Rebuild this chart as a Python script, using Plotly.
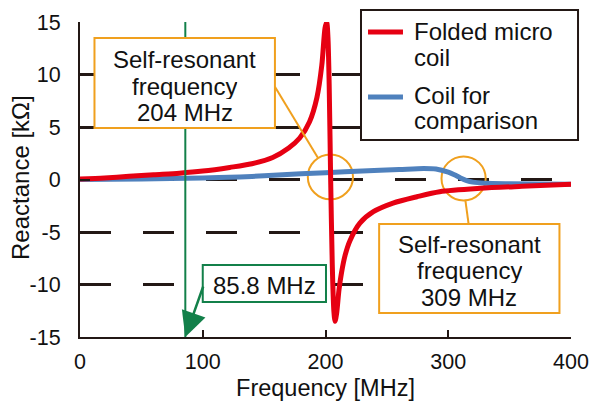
import plotly.graph_objects as go

# ---- data ----
freq_folded = [0, 20, 40, 60, 81, 100, 122, 140, 157, 170, 179, 187, 193, 197,
               199.6, 201, 202, 203, 204.2, 205.5, 206.8, 207.8, 209, 211, 213,
               216, 220, 228, 239, 255, 274.5, 293, 326, 360, 400]
react_folded = [0.05, 0.15, 0.3, 0.45, 0.6, 0.8, 1.15, 1.5, 2.1, 3.0, 3.95, 5.5,
                7.8, 10.9, 14.4, 15.0, 13.5, 9.0, 0.0, -8.0, -12.5, -13.5, -12.8,
                -10.5, -8.9, -7.2, -5.8, -4.15, -3.07, -2.25, -1.64, -1.16, -0.84,
                -0.65, -0.46]

freq_compare = [0, 50, 100, 130, 150, 180, 200, 230, 260, 280, 290, 300, 305,
                310, 315, 320, 330, 350, 400]
react_compare = [0.0, 0.05, 0.15, 0.25, 0.35, 0.55, 0.65, 0.8, 0.95, 1.05, 1.0,
                 0.7, 0.45, 0.15, -0.1, -0.25, -0.35, -0.4, -0.45]

series_names = ["Folded micro coil", "Coil for comparison"]
legend_lines = [["Folded micro", "coil"], ["Coil for", "comparison"]]

x_ticks = [0, 100, 200, 300, 400]
y_ticks = [-15, -10, -5, 0, 5, 10, 15]

srf_folded = 204
srf_compare = 309
marker_freq = 85.8

RED = "#E60012"
BLUE = "#4F81BD"
ORANGE = "#F0A01E"
GREEN = "#13804A"
INK = "#231815"
TXT = "#111111"
FONT = "Liberation Sans, Arial, sans-serif"

fig = go.Figure()
fig.add_trace(go.Scatter(x=freq_compare, y=react_compare, mode="lines",
                         name=series_names[1], showlegend=False,
                         line=dict(color=BLUE, width=5, shape="spline",
                                   smoothing=0.8)))
fig.add_trace(go.Scatter(x=freq_folded, y=react_folded, mode="lines",
                         name=series_names[0], showlegend=False,
                         line=dict(color=RED, width=5, shape="spline",
                                   smoothing=0.8)))

# green marker line
fig.add_shape(type="line", x0=marker_freq, x1=marker_freq, y0=-15, y1=15.2,
              xref="x", yref="y", line=dict(color=GREEN, width=2))

# orange circles
fig.add_shape(type="circle", x0=srf_folded - 18.4, x1=srf_folded + 18.4,
              y0=0.25 - 2.14, y1=0.25 + 2.14, xref="x", yref="y",
              line=dict(color=ORANGE, width=2), layer="between")
fig.add_shape(type="circle", x0=312.5 - 18.0, x1=312.5 + 18.0,
              y0=0.1 - 2.1, y1=0.1 + 2.1, xref="x", yref="y",
              line=dict(color=ORANGE, width=2), layer="between")
# orange connectors
fig.add_shape(type="line", x0=158.8, y0=8.84, x1=193.9, y1=2.05,
              xref="x", yref="y", line=dict(color=ORANGE, width=2))
fig.add_shape(type="line", x0=316.6, y0=-4.24, x1=313.9, y1=-1.95,
              xref="x", yref="y", line=dict(color=ORANGE, width=2))

# boxes
fig.add_shape(type="rect", x0=11.8, x1=158.8, y0=4.9, y1=13.48,
              xref="x", yref="y", fillcolor="white",
              line=dict(color=ORANGE, width=2))
fig.add_shape(type="rect", x0=243.7, x1=390.6, y0=-12.71, y1=-4.24,
              xref="x", yref="y", fillcolor="white",
              line=dict(color=ORANGE, width=2))
fig.add_shape(type="rect", x0=100.0, x1=200.4, y0=-11.67, y1=-8.14,
              xref="x", yref="y", fillcolor="white",
              line=dict(color=GREEN, width=2))

def text_line(x, y, s, xref="x", yref="y", xanchor="center", size=24):
    fig.add_annotation(x=x, y=y, xref=xref, yref=yref, showarrow=False, text=s,
                       font=dict(family=FONT, size=size, color=TXT),
                       xanchor=xanchor, yanchor="middle",
                       height=26, borderpad=0)

for yv, s in zip([11.45, 8.90, 6.45],
                 ["Self-resonant", "frequency", "%d MHz" % srf_folded]):
    text_line(85.3, yv, s)
for yv, s in zip([-6.14, -8.62, -11.20],
                 ["Self-resonant", "frequency", "%d MHz" % srf_compare]):
    text_line(317.1, yv, s)
text_line(150.2, -10.05, "%.1f MHz" % marker_freq)

fig.add_annotation(x=marker_freq, y=-15, xref="x", yref="y", text="",
                   showarrow=True, axref="x", ayref="y", ax=100.8, ay=-10.05,
                   arrowhead=2, arrowsize=2, arrowwidth=2.5,
                   arrowcolor=GREEN, standoff=0, startstandoff=0)

# legend (drawn as a box with sample lines and text)
fig.add_shape(type="rect", xref="paper", yref="paper",
              x0=0.5723, x1=1.0143, y0=0.6254, y1=1.0381,
              fillcolor="white", line=dict(color=INK, width=2))
for ys, col in zip([0.9683, 0.7619], [RED, BLUE]):
    fig.add_shape(type="line", xref="paper", yref="paper",
                  x0=0.5866, x1=0.6578, y0=ys, y1=ys,
                  line=dict(color=col, width=5))
for ys, s in zip([0.9705, 0.8889, 0.7673, 0.6889],
                 legend_lines[0] + legend_lines[1]):
    text_line(0.6782, ys, s, xref="paper", yref="paper", xanchor="left")

# y-axis title
fig.add_annotation(x=-0.1202, y=0.508, xref="paper", yref="paper",
                   text="Reactance [kΩ]", textangle=-90, showarrow=False,
                   font=dict(family=FONT, size=24, color=TXT),
                   xanchor="center", yanchor="middle")

fig.update_layout(
    width=590, height=401,
    margin=dict(l=80, r=19, t=22, b=64, autoexpand=False),
    paper_bgcolor="white", plot_bgcolor="white",
    font=dict(family=FONT, size=21.5, color=TXT),
    showlegend=False,
)
fig.update_xaxes(range=[0, 400], tickvals=x_ticks,
                 ticktext=[str(v) for v in x_ticks],
                 ticks="inside", ticklen=7, tickwidth=2, tickcolor=INK,
                 showline=True, linecolor=INK, linewidth=2,
                 showgrid=False, zeroline=False, automargin=False,
                 ticklabelstandoff=4,
                 title=dict(text="Frequency [MHz]", standoff=20,
                            font=dict(size=23.5)))
fig.update_yaxes(range=[-15, 15], tickvals=y_ticks,
                 ticktext=[str(v) for v in y_ticks],
                 ticks="inside", ticklen=10, tickwidth=2, tickcolor=INK,
                 showline=True, linecolor=INK, linewidth=2,
                 showgrid=True, gridcolor=INK, gridwidth=2.5,
                 griddash="31px,32px", zeroline=False, automargin=False,
                 ticklabelstandoff=13)

fig.write_html("out.html", config={"displayModeBar": False},
               post_script="document.body.style.margin='0px';")
